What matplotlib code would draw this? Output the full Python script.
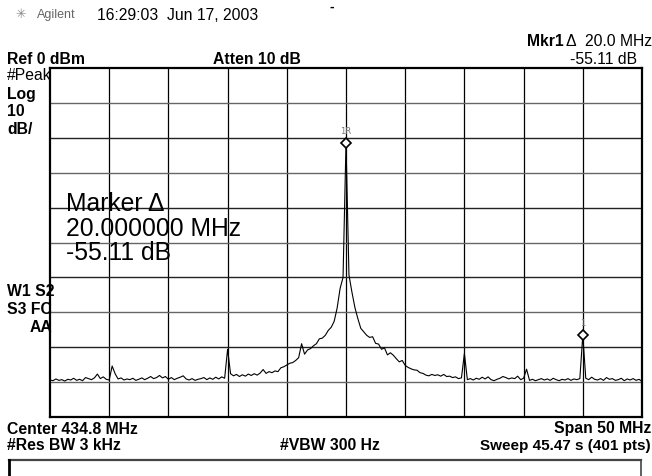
import numpy as np
import matplotlib
matplotlib.use('Agg')
import matplotlib.pyplot as plt
from matplotlib.lines import Line2D

# sweep settings (MHz)
center_mhz = 434.8
span_mhz = 50.0
n_points = 201

# trace levels, dBm
trace_dbm = [
    -89.4, -89.6, -89.1, -89.5, -89.3, -89.7, -89.2, -89.4, -88.9, -89.5,
    -89.2, -89.6, -88.7, -89.0, -89.3, -88.8, -87.7, -89.0, -88.5, -89.2,
    -89.4, -85.4, -87.6, -89.1, -88.8, -89.4, -89.1, -89.3, -88.9, -89.5,
    -89.2, -88.8, -89.3, -88.9, -88.4, -89.0, -88.7, -88.1, -88.8, -88.4,
    -89.2, -88.7, -89.3, -88.9, -88.6, -88.2, -89.1, -89.4, -89.0, -89.5,
    -89.2, -89.0, -88.7, -89.3, -88.8, -89.2, -88.6, -89.1, -88.5, -88.9,
    -80.6, -87.6, -88.2, -87.8, -88.4, -87.9, -88.3, -87.7, -88.1, -87.6,
    -88.0, -87.4, -86.4, -87.5, -87.0, -87.3, -86.8, -87.0, -85.9, -85.6,
    -85.1, -84.6, -84.4, -83.8, -83.0, -79.0, -82.0, -80.8, -80.4, -79.6,
    -79.0, -77.6, -77.4, -76.6, -75.2, -74.3, -72.6, -68.8, -63.2, -60.0,
    -21.5, -59.3, -64.2, -68.6, -71.8, -74.6, -75.6, -76.6, -77.2, -77.0,
    -78.9, -79.1, -80.6, -80.2, -82.2, -81.6, -82.3, -83.3, -84.2, -83.8,
    -85.2, -85.8, -86.2, -86.5, -86.6, -87.3, -87.5, -88.0, -88.2, -87.8,
    -88.1, -87.9, -88.3, -87.8, -88.4, -88.3, -88.7, -88.5, -89.0, -88.8,
    -81.8, -89.3, -89.0, -89.4, -88.9, -89.2, -88.6, -89.1, -88.5, -89.3,
    -89.6, -89.2, -88.9, -88.4, -88.7, -89.1, -88.8, -89.0, -88.3, -89.3,
    -88.9, -86.3, -89.5, -89.2, -89.6, -89.3, -89.0, -89.4, -89.1, -89.5,
    -88.9, -89.3, -89.6, -89.2, -89.4, -89.0, -89.5, -89.1, -89.3, -89.0,
    -76.6, -88.9, -89.3, -88.6, -89.2, -89.4, -89.0, -89.5, -88.7, -89.2,
    -89.0, -89.5, -89.3, -88.9, -89.6, -89.1, -89.4, -89.0, -89.5, -89.2,
    -89.8,
]

# markers: (freq MHz, level dBm, label)
marker_freqs = [434.8, 454.8]
marker_levels = [-21.5, -76.6]
marker_labels = ['1R', '1']

plt.rcParams['font.family'] = ['Liberation Sans', 'DejaVu Sans']

W, H = 652, 476
fig = plt.figure(figsize=(W / 100, H / 100), dpi=100)


def px(x, y):
    return x / W, 1 - y / H


def put(x, y, s, size=11.3, weight='bold', ha='left', color='black', **kw):
    fx, fy = px(x, y)
    fig.text(fx, fy, s, fontsize=size, fontweight=weight, ha=ha, va='center',
             color=color, **kw)


ax = fig.add_axes([50 / W, 1 - 417 / H, 592 / W, 349 / H])
freqs = np.linspace(center_mhz - span_mhz / 2, center_mhz + span_mhz / 2, n_points)
ax.set_xlim(freqs[0], freqs[-1])
ax.set_ylim(-100, 0)

for f in np.arange(freqs[0] + 5, freqs[-1] - 1, 5):
    ax.axvline(f, color='black', lw=0.9, zorder=1)
for k, lev in enumerate(range(-90, 0, 10)):
    ax.axhline(lev, color='#222222' if k % 2 else '#666666', lw=1.0, zorder=1)

ax.plot(freqs, trace_dbm, color='black', lw=0.8, zorder=3)
ax.plot(marker_freqs, marker_levels, 'D', ms=5.5, mfc='white', mec='black',
        mew=1.2, zorder=4)
for f, lev, lab in zip(marker_freqs, marker_levels, marker_labels):
    ax.text(f, lev + 3.3, lab, fontsize=6, color='#777777', ha='center',
            va='center', family='DejaVu Sans')

ax.set_xticks([])
ax.set_yticks([])
for s in ax.spines.values():
    s.set_linewidth(1.6)

# big marker readout
put(66, 204, 'Marker \u0394', size=17.8, weight='normal')
put(66, 229, '20.000000 MHz', size=17.8, weight='normal')
put(66, 253, '-55.11 dB', size=17.8, weight='normal')

# header
put(15, 15, '\u2733', size=9, weight='normal', color='#888888')
put(37, 15, 'Agilent', size=9, weight='normal', color='#666666')
put(97, 15, '16:29:03  Jun 17, 2003', size=11.3, weight='normal')
put(329, 7, '-', size=10)
put(7, 59, 'Ref 0 dBm')
put(213, 59, 'Atten 10 dB')
put(527, 42, 'Mkr1')
put(566, 42, '\u0394', size=11.3, weight='normal')
put(585, 42, '20.0 MHz', size=11.3, weight='normal')
put(637, 59, '-55.11 dB', size=11.3, weight='normal', ha='right')

# left annotations
put(7, 76, '#Peak', weight='normal')
put(7, 94, 'Log')
put(7, 112, '10')
put(7, 130, 'dB/')
put(7, 292, 'W1 S2')
put(7, 309, 'S3 FC')
put(52, 327, 'AA', ha='right')

# footer
put(7, 429, 'Center 434.8 MHz')
put(651, 429, 'Span 50 MHz', ha='right')
put(7, 446, '#Res BW 3 kHz')
put(330, 446, '#VBW 300 Hz', ha='center')
put(651, 446, 'Sweep 45.47 s (401 pts)', size=11, ha='right')

# empty message box at the bottom
x0, x1 = 9 / W, 641 / W
y0, y1 = 1 - 460 / H, 0.0
fig.add_artist(Line2D([x0, x1], [y0, y0], color='#444444', lw=1.6))
fig.add_artist(Line2D([x0, x0], [y0, y1], color='black', lw=2.0))
fig.add_artist(Line2D([x1, x1], [y0, y1], color='#444444', lw=1.2))

fig.savefig('out.png', dpi=100)
